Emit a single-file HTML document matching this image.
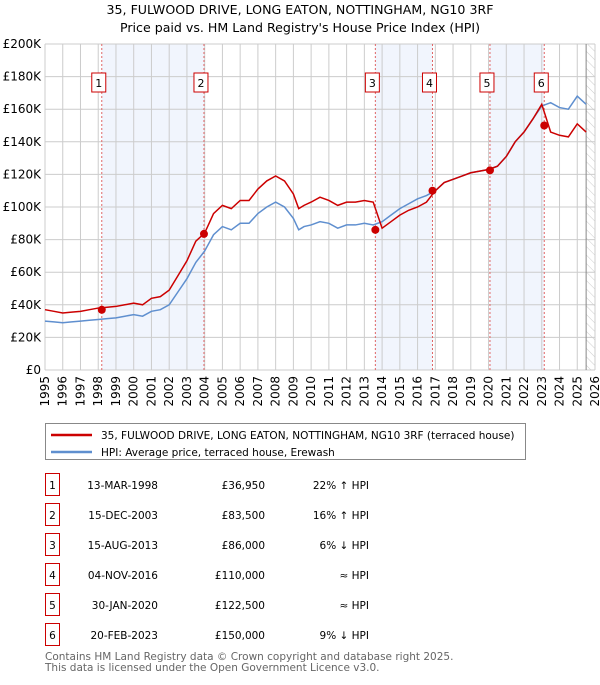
<!DOCTYPE html>
<html><head><meta charset="utf-8"><style>
body{margin:0;background:#fff;font-family:"Liberation Sans","DejaVu Sans",sans-serif;}
svg text{font-family:"DejaVu Sans","Liberation Sans",sans-serif;}
</style></head><body>
<svg id="c" width="600" height="680" viewBox="0 0 600 680" xmlns="http://www.w3.org/2000/svg">
<defs><pattern id="hatch" width="6" height="6" patternUnits="userSpaceOnUse" patternTransform="rotate(-45)"><line x1="0" y1="0" x2="0" y2="6" stroke="#ccc" stroke-width="1"/></pattern></defs>
<text x="300" y="14" text-anchor="middle" font-size="12.6" fill="#000">35, FULWOOD DRIVE, LONG EATON, NOTTINGHAM, NG10 3RF</text>
<text x="300" y="32" text-anchor="middle" font-size="12.6" fill="#000">Price paid vs. HM Land Registry's House Price Index (HPI)</text>
<g id="plot"></g>
<g>
<rect x="45.5" y="423.5" width="480" height="36" fill="#fff" stroke="#888"/>
<line x1="51" y1="435" x2="92" y2="435" stroke="#cc0000" stroke-width="2.5"/>
<text x="101" y="439" font-size="10.5">35, FULWOOD DRIVE, LONG EATON, NOTTINGHAM, NG10 3RF (terraced house)</text>
<line x1="51" y1="452" x2="92" y2="452" stroke="#5f8fcf" stroke-width="2.5"/>
<text x="101" y="456" font-size="10.5">HPI: Average price, terraced house, Erewash</text>
</g>
<g id="table"></g>
<text x="45" y="660" font-size="10.5" fill="#666">Contains HM Land Registry data © Crown copyright and database right 2025.</text>
<text x="45" y="671" font-size="10.5" fill="#666">This data is licensed under the Open Government Licence v3.0.</text>
</svg>
<script>
const years=[1995,1995.5,1996,1996.5,1997,1997.5,1998,1998.5,1999,1999.5,2000,2000.5,2001,2001.5,2002,2002.5,2003,2003.5,2004,2004.5,2005,2005.5,2006,2006.5,2007,2007.5,2008,2008.5,2009,2009.3,2009.6,2010,2010.5,2011,2011.5,2012,2012.5,2013,2013.5,2014,2014.5,2015,2015.5,2016,2016.5,2017,2017.5,2018,2018.5,2019,2019.5,2020,2020.5,2021,2021.5,2022,2022.5,2023,2023.5,2024,2024.5,2025,2025.5];
const hpi=[30,29.5,29,29.5,30,30.5,31,31.5,32,33,34,33,36,37,40,48,56,66,73,83,88,86,90,90,96,100,103,100,93,86,88,89,91,90,87,89,89,90,89,91,95,99,102,105,107,110,115,117,119,121,122,123,125,131,140,146,154,162,164,161,160,168,163];
const prop=[37,36,35,35.5,36,37,38,38.5,39,40,41,40,44,45,49,58,67,79,84,96,101,99,104,104,111,116,119,116,108,99,101,103,106,104,101,103,103,104,103,87,91,95,98,100,103,110,115,117,119,121,122,123,125,131,140,146,154,163,146,144,143,151,146];
const saleYears=[1998.2,2003.96,2013.62,2016.84,2020.08,2023.14];
const salePrices=[36.95,83.5,86,110,122.5,150];
const saleDates=["13-MAR-1998","15-DEC-2003","15-AUG-2013","04-NOV-2016","30-JAN-2020","20-FEB-2023"];
const saleLabels=["£36,950","£83,500","£86,000","£110,000","£122,500","£150,000"];
const saleHpi=["22% ↑ HPI","16% ↑ HPI","6% ↓ HPI","≈ HPI","≈ HPI","9% ↓ HPI"];
const yTicks=[0,20,40,60,80,100,120,140,160,180,200];
const x0=45,x1=595,y0=370,y1=44;
const X=y=>x0+(y-1995)/31*(x1-x0);
const Y=v=>y0-v/200*(y0-y1);
const NS="http://www.w3.org/2000/svg";
const plot=document.getElementById('plot');
function mk(t,a,p){const e=document.createElementNS(NS,t);for(const k in a)e.setAttribute(k,a[k]);(p||plot).appendChild(e);return e;}
let e;
e=mk('rect',{x:x0,y:y1,width:x1-x0,height:y0-y1,fill:'#fff'});


for(let i=0;i<6;i+=2){e=mk('rect',{x:X(saleYears[i]),y:y1,width:X(saleYears[i+1])-X(saleYears[i]),height:y0-y1,fill:'#eef3fd',opacity:0.8});

}
e=mk('rect',{x:X(2025.5),y:y1,width:x1-X(2025.5),height:y0-y1,fill:'url(#hatch)'});


for(let yr=1995;yr<=2026;yr++){e=mk('line',{x1:X(yr),x2:X(yr),y1:y1,y2:y0,stroke:'#ccc','stroke-width':1});


e=mk('text',{x:0,y:0,'font-size':12,'text-anchor':'end',transform:`translate(${X(yr)+4},${y0+6}) rotate(-90)`});e.textContent=yr;

}
yTicks.forEach(v=>{e=mk('line',{x1:x0,x2:x1,y1:Y(v),y2:Y(v),stroke:'#ccc','stroke-width':1});


e=mk('text',{x:x0-4,y:Y(v)+4,'font-size':12,'text-anchor':'end'});e.textContent=v===0?'£0':'£'+v+'K';

});
e=mk('line',{x1:X(2025.5),x2:X(2025.5),y1:y1,y2:y0,stroke:'#888'});


saleYears.forEach((s,i)=>{e=mk('line',{x1:X(s),x2:X(s),y1:y1,y2:y0,stroke:'#e06666','stroke-dasharray':'2,2'});


e=mk('rect',{x:X(s)-10,y:73,width:14,height:19,fill:'#fff',stroke:'#cc0000'});


e=mk('text',{x:X(s)-3,y:87,'font-size':11,'text-anchor':'middle'});e.textContent=i+1;

});
e=mk('polyline',{points:years.map((y,i)=>X(y)+','+Y(hpi[i])).join(' '),fill:'none',stroke:'#5f8fcf','stroke-width':1.5});


e=mk('polyline',{points:years.map((y,i)=>X(y)+','+Y(prop[i])).join(' '),fill:'none',stroke:'#cc0000','stroke-width':1.5});


saleYears.forEach((s,i)=>{e=mk('circle',{cx:X(s),cy:Y(salePrices[i]),r:4,fill:'#cc0000'});

});
const tb=document.getElementById('table');
saleDates.forEach((d,i)=>{const yy=485+i*30;
e=mk('rect',{x:45.5,y:yy-11.5,width:14,height:22,fill:'none',stroke:'#cc0000'},tb);


e=mk('text',{x:52.5,y:yy+4,'font-size':10.5,'text-anchor':'middle'},tb);e.textContent=i+1;


e=mk('text',{x:158,y:yy+4,'font-size':10.5,'text-anchor':'end'},tb);e.textContent=d;


e=mk('text',{x:265,y:yy+4,'font-size':10.5,'text-anchor':'end'},tb);e.textContent=saleLabels[i];


e=mk('text',{x:369,y:yy+4,'font-size':10.5,'text-anchor':'end'},tb);e.textContent=saleHpi[i];

});
</script>
</body></html>
